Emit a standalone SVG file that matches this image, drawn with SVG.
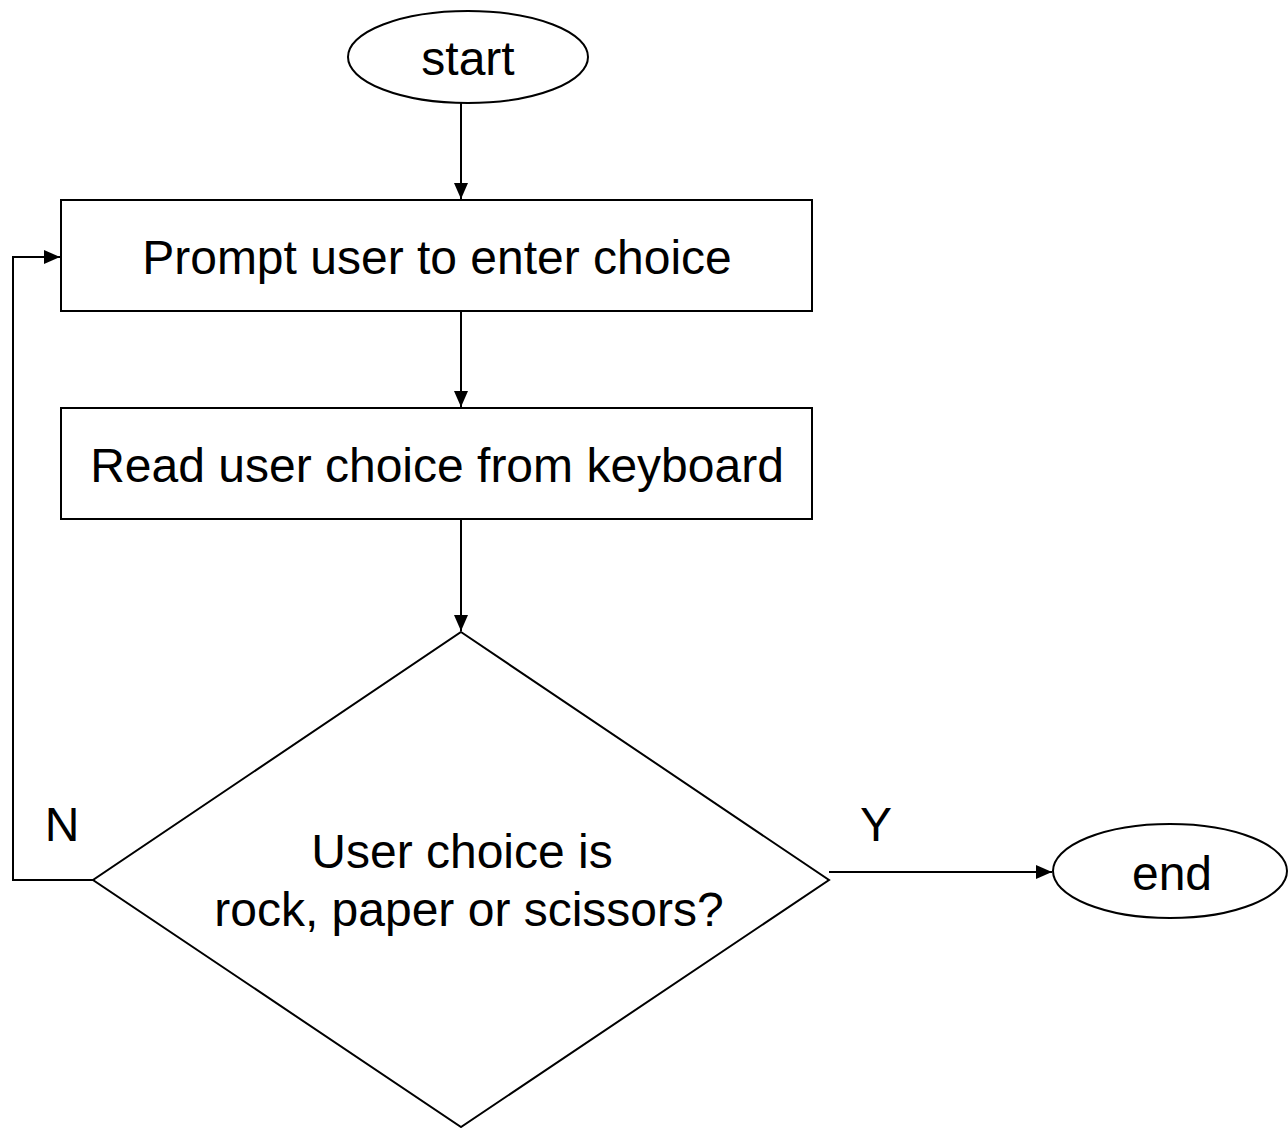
<svg xmlns="http://www.w3.org/2000/svg" width="1288" height="1128" viewBox="0 0 1288 1128">
  <style>
    .shape { fill: #ffffff; stroke: #000000; stroke-width: 2; }
    .edge { fill: none; stroke: #000000; stroke-width: 2; }
    text { font-family: "Liberation Sans", Arial, sans-serif; font-size: 48px; fill: #000000; }
    .c { text-anchor: middle; }
  </style>
  <defs>
    <marker id="arrow" viewBox="0 0 16 14" refX="16" refY="7" markerWidth="16" markerHeight="14" markerUnits="userSpaceOnUse" orient="auto">
      <path d="M0,0 L16,7 L0,14 Z" fill="#000000"/>
    </marker>
  </defs>
  <rect width="1288" height="1128" fill="#ffffff"/>

  <g id="connectors">
    <line class="edge" x1="461" y1="103" x2="461" y2="199" marker-end="url(#arrow)"/>
    <line class="edge" x1="461" y1="311" x2="461" y2="407" marker-end="url(#arrow)"/>
    <line class="edge" x1="461" y1="519" x2="461" y2="631" marker-end="url(#arrow)"/>
    <polyline class="edge" points="93,880 13,880 13,257 60,257" marker-end="url(#arrow)"/>
    <line class="edge" x1="829" y1="872" x2="1052" y2="872" marker-end="url(#arrow)"/>
    <text x="62" y="841" class="c">N</text>
    <text x="876" y="841" class="c">Y</text>
  </g>

  <g id="start">
    <ellipse class="shape" cx="468" cy="57" rx="120" ry="46"/>
    <text x="468" y="75" class="c">start</text>
  </g>

  <g id="prompt">
    <rect class="shape" x="61" y="200" width="751" height="111"/>
    <text x="437" y="274" class="c">Prompt user to enter choice</text>
  </g>

  <g id="read">
    <rect class="shape" x="61" y="408" width="751" height="111"/>
    <text x="437" y="482" class="c">Read user choice from keyboard</text>
  </g>

  <g id="decision">
    <polygon class="shape" points="461,632 829,880 461,1127 93,880"/>
    <text x="462" y="868" class="c">User choice is</text>
    <text x="469" y="926" class="c">rock, paper or scissors?</text>
  </g>

  <g id="end">
    <ellipse class="shape" cx="1170" cy="871" rx="117" ry="47"/>
    <text x="1172" y="890" class="c">end</text>
  </g>
</svg>
